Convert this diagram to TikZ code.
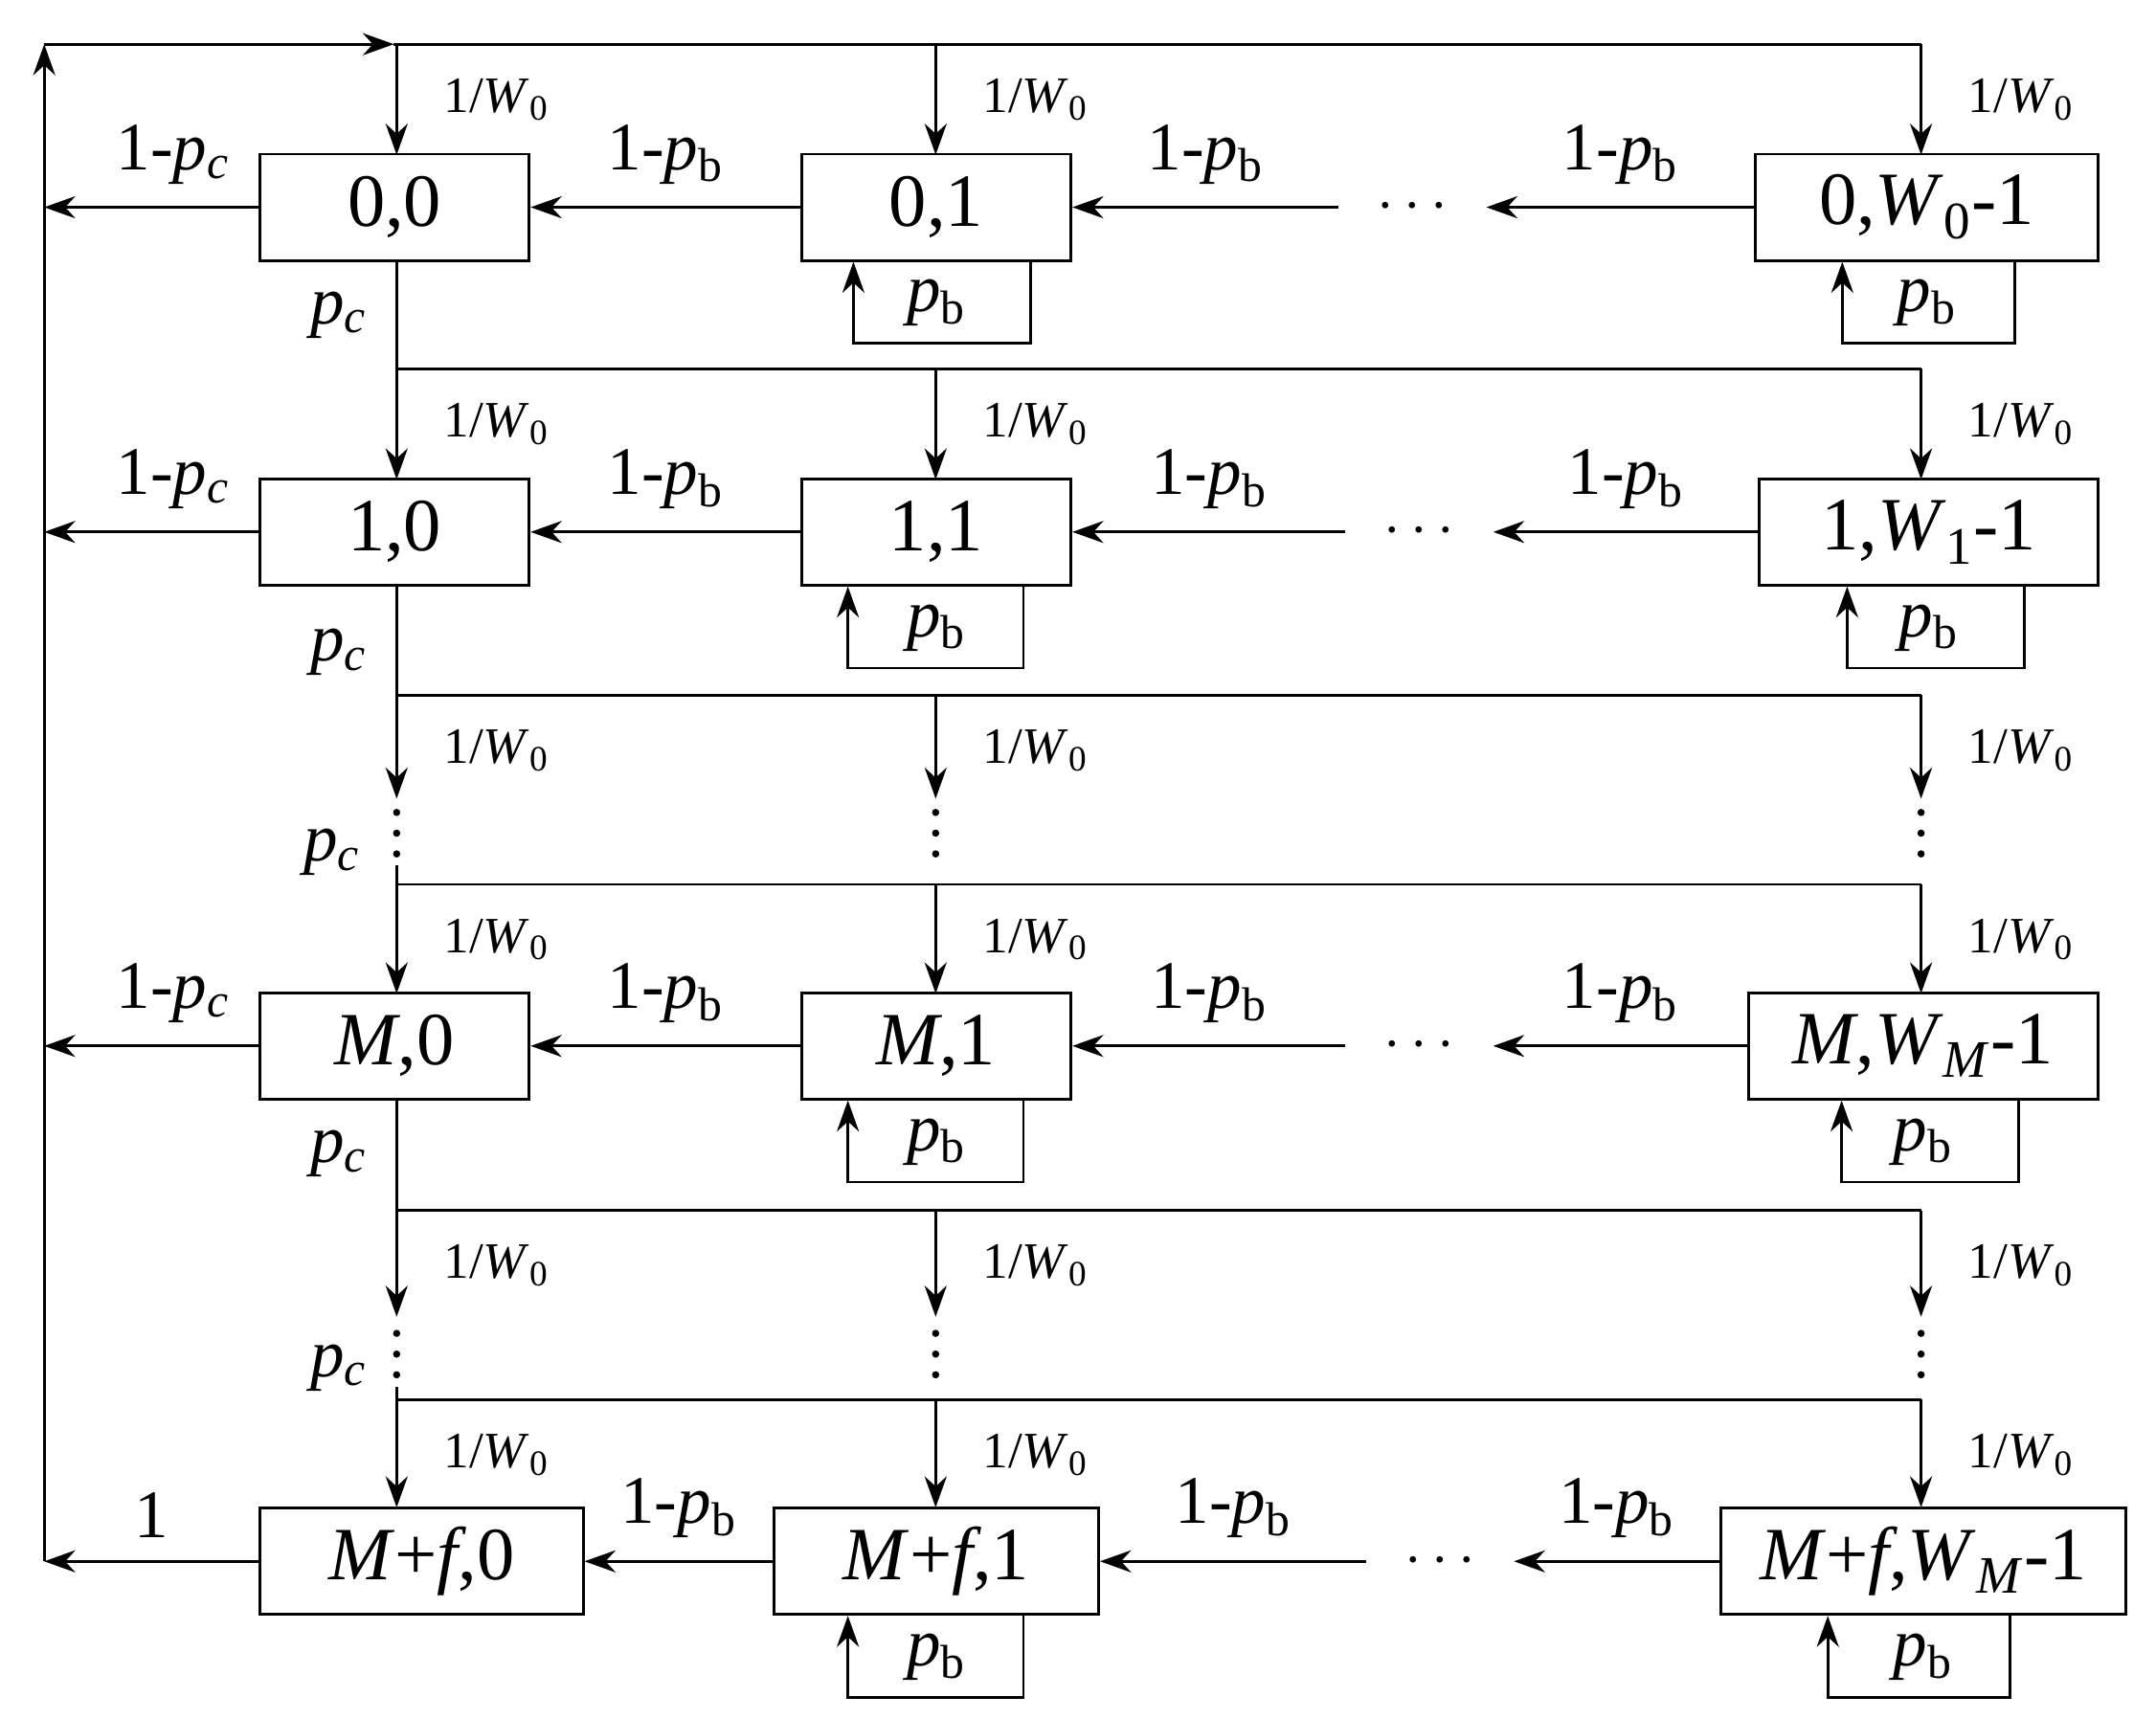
\documentclass[tikz,border=0pt]{standalone}
\usepackage{fontspec}
\setmainfont{Liberation Serif}
\usetikzlibrary{arrows.meta,positioning,calc}
\newcommand\bigf{\fontsize{31}{34}\selectfont}
\newcommand\midf{\fontsize{28}{30}\selectfont}
\newcommand\smlf{\fontsize{21}{23}\selectfont}
\newcommand\Pc{\textit{p\textsubscript{c}}}
\newcommand\Pb{\textit{p}\textsubscript{b}}
\newcommand\Wi[1]{\textit{W}\textsubscript{#1}}
\newcommand\inv{1/\Wi{0}}
\begin{document}
\begin{tikzpicture}[x=0.02cm, y=-0.02cm,
  >={Stealth[length=4.5mm,width=3.2mm]}, line width=1.1pt,
  box/.style = {draw, minimum height=1.54cm, inner sep=0pt, font=\bigf},
  hdots/.style = {minimum width=2.1cm, inner sep=0pt, font=\bigf},
  lbl/.style = {font=\midf, above=2mm},
  sml/.style = {font=\smlf},
  vd/.style = {minimum height=0.9cm, minimum width=2mm, inner sep=0pt}
                        ]
\useasboundingbox (0,0) rectangle (1560,1244);
% boxes
\node[box, minimum width=3.9cm] (b00) at (285.5,150) {0,0};
\node[box, minimum width=3.9cm] (b01) at (677.5,150) {0,1};
\node[box, minimum width=4.96cm] (b0w) at (1394,150) {0,\Wi{0}-1};
\node[box, minimum width=3.9cm] (b10) at (285.5,385) {1,0};
\node[box, minimum width=3.9cm] (b11) at (677.5,385) {1,1};
\node[box, minimum width=4.9cm] (b1w) at (1395.5,385) {1,\Wi{1}-1};
\node[box, minimum width=3.9cm] (bm0) at (285.5,757) {\textit{M},0};
\node[box, minimum width=3.9cm] (bm1) at (677.5,757) {\textit{M},1};
\node[box, minimum width=5.06cm] (bmw) at (1391.5,757) {\textit{M},\Wi{\textit{M}}-1};
\node[box, minimum width=4.68cm] (bf0) at (305,1130) {\textit{M}+\textit{f},0};
\node[box, minimum width=4.7cm] (bf1) at (677.5,1130) {\textit{M}+\textit{f},1};
\node[box, minimum width=5.86cm] (bfw) at (1391.5,1130) {\textit{M}+\textit{f},\Wi{\textit{M}}-1};
% horizontal dots
\node[hdots] (d0) at (1022,150) {$\cdots$};
\node[hdots] (d1) at (1027,385) {$\cdots$};
\node[hdots] (dm) at (1027,757) {$\cdots$};
\node[hdots] (df) at (1042,1130) {$\cdots$};
% vertical dots
\foreach \x/\n in {287/a,677/b,1390/c}{
  \node[vd] (v1\n) at (\x,603) {};
  \node[vd] (v2\n) at (\x,980) {};
  \foreach \d in {-15,0,15}{
    \fill (\x,603+\d) circle (1.5pt);
    \fill (\x,980+\d) circle (1.5pt);
  }
}
% chains to the left
\foreach \r in {0,1,m,f}{
  \draw[->] (b\r w.west) -- (d\r.east) node[lbl, midway] {1-\Pb};
  \draw[->] (d\r.west) -- (b\r 1.east) node[lbl, midway] {1-\Pb};
  \draw[->] (b\r 1.west) -- (b\r 0.east) node[lbl, midway] {1-\Pb};
}
\foreach \r in {0,1,m}{
  \draw[->] (b\r 0.west) -- (32,0 |- b\r 0.west) node[lbl, pos=0.4] {1-\Pc};
}
\draw[->] (bf0.west) -- (32,1130) node[lbl, midway] {1};
% self loops
\foreach \b/\l/\r in {b01/-1.2/1.36, b0w/-1.22/1.28, b11/-1.28/1.26, b1w/-1.18/1.38,
                      bm1/-1.28/1.26, bmw/-1.18/1.38, bf1/-1.28/1.26, bfw/-1.38/1.26}{
  \draw[->] ([xshift=\r cm]\b.south) -- ++(0,59) -| ([xshift=\l cm]\b.south);
  \node[font=\midf] at ([xshift={(\l+\r)/2 cm}, yshift=-0.6cm]\b.south) {\Pb};
}
% feedback
\draw[->] (32,1130) -- (32,32);
\draw[->] (32,32) -- (285,32);
\draw (285,32) -- (1390,32);
% branching lines
\draw (287,0 |- b00.south) -- (287,267) -- (1390,267);
\draw (287,0 |- b10.south) -- (287,503) -- (1390,503);
\draw (v1a.south) -- (287,640) -- (1390,640);
\draw (287,0 |- bm0.south) -- (287,876) -- (1390,876);
\draw (v2a.south) -- (287,1013) -- (1390,1013);
\node[font=\midf] at (245,228) {\Pc};
\node[font=\midf] at (245,472) {\Pc};
\node[font=\midf] at (240,617) {\Pc};
\node[font=\midf] at (245,835) {\Pc};
\node[font=\midf] at (245,990) {\Pc};
% drops
\foreach \yl/\yt in {32/112, 267/347, 503/578, 640/719, 876/953, 1013/1091}{
  \foreach \x in {287,677,1390}{
    \draw[->] (\x,\yl) -- (\x,\yt);
    \node[sml] at (\x+72,\yl+40) {\inv};
  }
}
\end{tikzpicture}
\end{document}
